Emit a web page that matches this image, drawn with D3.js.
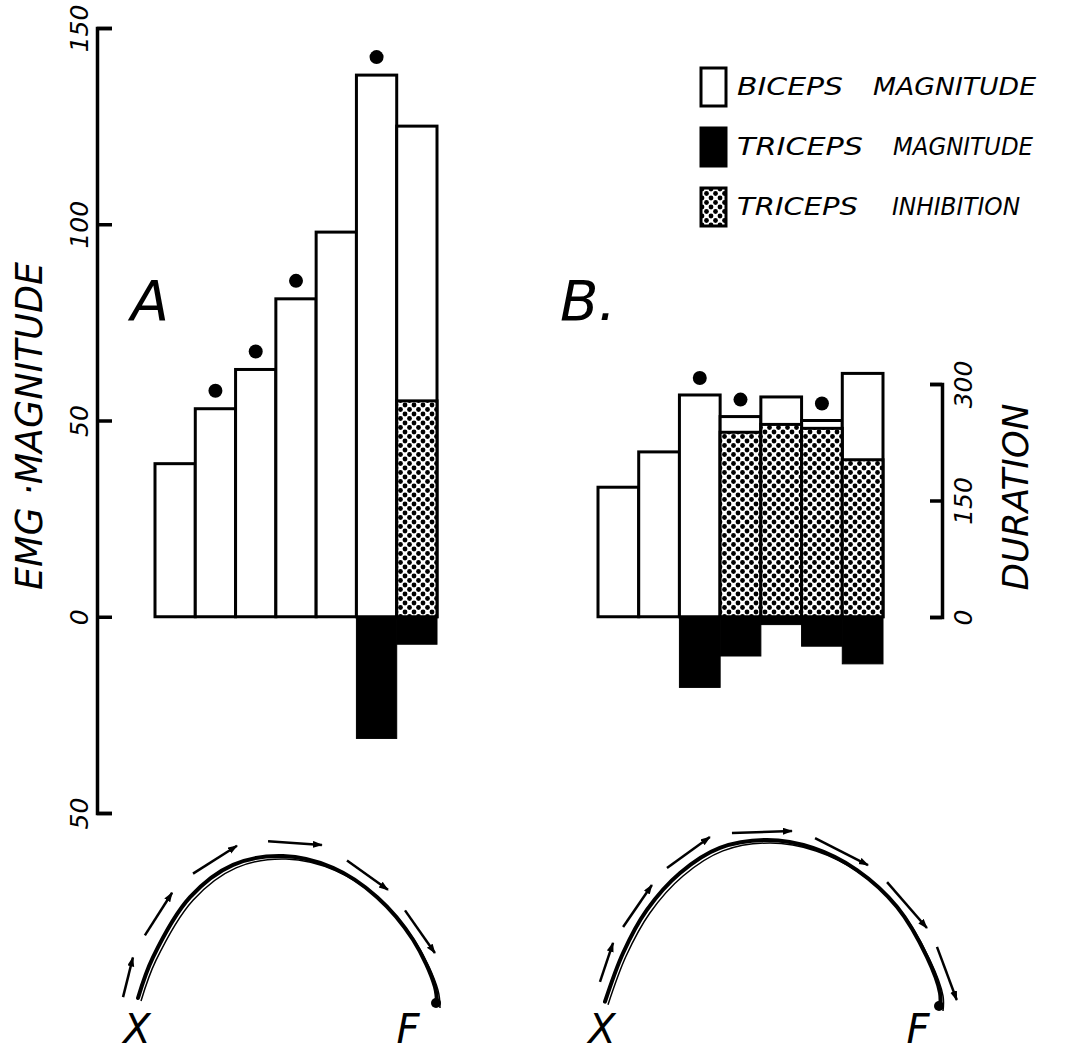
<!DOCTYPE html>
<html>
<head>
<meta charset="utf-8">
<script src="https://cdn.jsdelivr.net/npm/d3@7"></script>
<style>
  body { margin: 0; background: #fff; }
  svg { display: block; }
  text { font-family: "DejaVu Sans", sans-serif; font-style: italic; fill: #000; }
</style>
</head>
<body>
<script>
// panel A: seven trials
const bicepsA = [39, 53, 63, 81, 98, 138, 125]
const tricepsA = [0, 0, 0, 0, 0, 31, 7]
const inhibA = [0, 0, 0, 0, 0, 0, 55]
const starA = [false, true, true, true, false, true, false]

// panel B
const bicepsB = [33, 42, 56.5, 51, 56, 50, 62]
const tricepsB = [0, 0, 18, 10, 2, 7.5, 12]
const inhibB = [0, 0, 0, 47, 49, 48, 40]
const starB = [false, false, true, true, false, true, false]

const emgTicks = [150, 100, 50, 0, -50]
const durTicks = [0, 150, 300]
const legendWords = [["BICEPS", "MAGNITUDE"], ["TRICEPS", "MAGNITUDE"], ["TRICEPS", "INHIBITION"]]
const legendKinds = ["biceps", "triceps", "inhib"]

// movement trajectories (sketch units 0..100 across / up)
const pathA = [[0,3.4],[5,31],[17.4,72],[31.8,94],[48.5,100],[65.2,92],[80,72],[92,43],[99.3,11],[100,-1.4]]
const pathB = [[0,2],[5.4,31.5],[12.5,57.6],[22.4,80],[34.3,95.2],[48.4,100],[62.1,95.2],[75.2,81.8],[87.2,59.4],[96.1,29.1],[100,7.3],[100,-1.8]]
const arrowsA = [[[-5,4],[-1.7,31]],[[2.3,46],[11.4,75]],[[18.4,88],[33.1,107]],[[43.5,110],[61.5,107.5]],[[69.9,97],[83.6,77]],[[89.3,63],[99.3,34]]]
const arrowsB = [[[-1.5,14],[2.4,37.6]],[[5.4,47.3],[14,72.7]],[[18.5,83],[31.3,101.8]],[[37.9,104.2],[55.8,105.5]],[[62.7,101.2],[78.5,84.8]],[[84.2,74.5],[96.1,46.7]],[[99.1,35.2],[105,3]]]

const W = 1077, H = 1056
const svg = d3.select("body").append("svg").attr("width", W).attr("height", H)

const defs = svg.append("defs")
const pat = defs.append("pattern").attr("id", "dots")
  .attr("patternUnits", "userSpaceOnUse").attr("width", 9).attr("height", 9)
pat.append("rect").attr("width", 9).attr("height", 9).attr("fill", "#fff")
;[[0,0],[9,0],[0,9],[9,9],[4.5,4.5]].forEach(([cx, cy]) =>
  pat.append("circle").attr("cx", cx).attr("cy", cy).attr("r", 2.4).attr("fill", "#000"))

defs.append("marker").attr("id", "head")
  .attr("markerUnits", "userSpaceOnUse")
  .attr("markerWidth", 10).attr("markerHeight", 8)
  .attr("refX", 9).attr("refY", 3.5).attr("orient", "auto")
  .append("path").attr("d", "M0,0 L10,3.5 L0,7 Z").attr("fill", "#000")

const y = d3.scaleLinear([-50, 150], [813, 28])
const dur = d3.scaleLinear([0, 300], [617, 384])
const xA = d3.scaleBand(d3.range(7), [155, 437])
const xB = d3.scaleBand(d3.range(7), [598, 883])

// left EMG axis (bracket with inward ticks)
const gL = svg.append("g").attr("transform", "translate(97,0)")
  .call(d3.axisLeft(y).tickValues(emgTicks).tickSize(-15).tickSizeOuter(-15).tickFormat(d => Math.abs(d)))
gL.select(".domain").attr("stroke-width", 3.5)
gL.selectAll(".tick line").attr("stroke-width", 3.5)
gL.selectAll(".tick text")
  .attr("x", null).attr("dy", null)
  .attr("text-anchor", "middle")
  .attr("font-size", 25).attr("font-family", null)
  .attr("transform", "translate(-9,0) rotate(-90)")

svg.append("text")
  .attr("transform", "translate(42,426) rotate(-90)")
  .attr("text-anchor", "middle")
  .attr("font-size", 38)
  .attr("textLength", 328).attr("lengthAdjust", "spacingAndGlyphs")
  .text("EMG ·MAGNITUDE")

// right duration axis
const gR = svg.append("g").attr("transform", "translate(942,0)")
  .call(d3.axisLeft(dur).tickValues(durTicks).tickSize(12).tickSizeOuter(12))
gR.select(".domain").attr("stroke-width", 3.5)
gR.selectAll(".tick line").attr("stroke-width", 3.5)
gR.selectAll(".tick text")
  .attr("x", null).attr("dy", null)
  .attr("text-anchor", "middle")
  .attr("font-size", 25).attr("font-family", null)
  .attr("transform", "translate(30,0) rotate(-90)")

svg.append("text")
  .attr("transform", "translate(1028,497) rotate(-90)")
  .attr("text-anchor", "middle")
  .attr("font-size", 35)
  .attr("textLength", 187).attr("lengthAdjust", "spacingAndGlyphs")
  .text("DURATION")

function drawPanel(x, biceps, triceps, inhib, star, starGap) {
  const g = svg.append("g")
  const bw = x.bandwidth()
  g.selectAll("rect.bic").data(biceps).join("rect").attr("class", "bic")
    .attr("x", (d, i) => x(i)).attr("y", d => y(d))
    .attr("width", bw).attr("height", d => y(0) - y(d))
    .attr("fill", "#fff").attr("stroke", "#000").attr("stroke-width", 3)
  g.selectAll("rect.inh").data(inhib.map((v, i) => ({ v, i })).filter(d => d.v > 0))
    .join("rect").attr("class", "inh")
    .attr("x", d => x(d.i)).attr("y", d => y(d.v))
    .attr("width", bw).attr("height", d => y(0) - y(d.v))
    .attr("fill", "url(#dots)").attr("stroke", "#000").attr("stroke-width", 3)
  g.selectAll("rect.tri").data(triceps.map((v, i) => ({ v, i })).filter(d => d.v > 0))
    .join("rect").attr("class", "tri")
    .attr("x", d => x(d.i)).attr("y", y(0))
    .attr("width", bw).attr("height", d => y(-d.v) - y(0))
    .attr("fill", "#000").attr("stroke", "#000").attr("stroke-width", 1)
  g.selectAll("circle.star").data(biceps.map((v, i) => ({ v, i })).filter(d => star[d.i]))
    .join("circle").attr("class", "star")
    .attr("cx", d => x(d.i) + bw / 2).attr("cy", d => y(d.v) - starGap)
    .attr("r", 7).attr("fill", "#000")
}
drawPanel(xA, bicepsA, tricepsA, inhibA, starA, 18)
drawPanel(xB, bicepsB, tricepsB, inhibB, starB, 17)

// panel letters
svg.append("text").attr("x", 150).attr("y", 320).attr("text-anchor", "middle")
  .attr("font-size", 56).text("A")
svg.append("text").attr("x", 588).attr("y", 320).attr("text-anchor", "middle")
  .attr("font-size", 56).text("B.")

// legend
const rowY = d3.scalePoint(d3.range(3), [95, 215])
const gLeg = svg.append("g")
legendKinds.forEach((k, i) => {
  const by = rowY(i)
  gLeg.append("rect").attr("x", 701).attr("y", by - 27).attr("width", 25).attr("height", 38)
    .attr("fill", k === "biceps" ? "#fff" : k === "triceps" ? "#000" : "url(#dots)")
    .attr("stroke", "#000").attr("stroke-width", 3)
})
const wordX = [[737, 106, 873, 163], [737, 126, 893, 140], [737, 121, 892, 128]]
legendWords.forEach((w, i) => {
  const [x1, l1, x2, l2] = wordX[i]
  gLeg.append("text").attr("x", x1).attr("y", rowY(i)).attr("font-size", 24)
    .attr("textLength", l1).attr("lengthAdjust", "spacingAndGlyphs").text(w[0])
  gLeg.append("text").attr("x", x2).attr("y", rowY(i)).attr("font-size", 24)
    .attr("textLength", l2).attr("lengthAdjust", "spacingAndGlyphs").text(w[1])
})

// trajectories
function drawTraj(pts, arrows, xr, yr, xLab, fLab) {
  const tx = d3.scaleLinear([0, 100], xr)
  const ty = d3.scaleLinear([0, 100], yr)
  const line = d3.line().x(d => tx(d[0])).y(d => ty(d[1])).curve(d3.curveCatmullRom)
  const g = svg.append("g")
  g.append("path").attr("d", line(pts)).attr("fill", "none")
    .attr("stroke", "#000").attr("stroke-width", 4).attr("stroke-linecap", "round")
  g.append("path").attr("d", line(pts)).attr("fill", "none")
    .attr("transform", "translate(3,3)")
    .attr("stroke", "#000").attr("stroke-width", 1.5)
  const end = pts[pts.length - 1]
  g.append("circle").attr("cx", tx(end[0]) - 1).attr("cy", ty(end[1]) - 2).attr("r", 5).attr("fill", "#000")
  g.selectAll("line.arr").data(arrows).join("line").attr("class", "arr")
    .attr("x1", d => tx(d[0][0])).attr("y1", d => ty(d[0][1]))
    .attr("x2", d => tx(d[1][0])).attr("y2", d => ty(d[1][1]))
    .attr("stroke", "#000").attr("stroke-width", 2.5)
    .attr("marker-end", "url(#head)")
  g.append("text").attr("x", xLab).attr("y", 1043).attr("text-anchor", "middle")
    .attr("font-size", 40).text("X")
  g.append("text").attr("x", fLab).attr("y", 1043).attr("text-anchor", "middle")
    .attr("font-size", 40).text("F")
}
drawTraj(pathA, arrowsA, [138, 437], [1003, 856], 137, 408)
drawTraj(pathB, arrowsB, [605, 940], [1005, 840], 602, 918)
</script>
</body>
</html>
